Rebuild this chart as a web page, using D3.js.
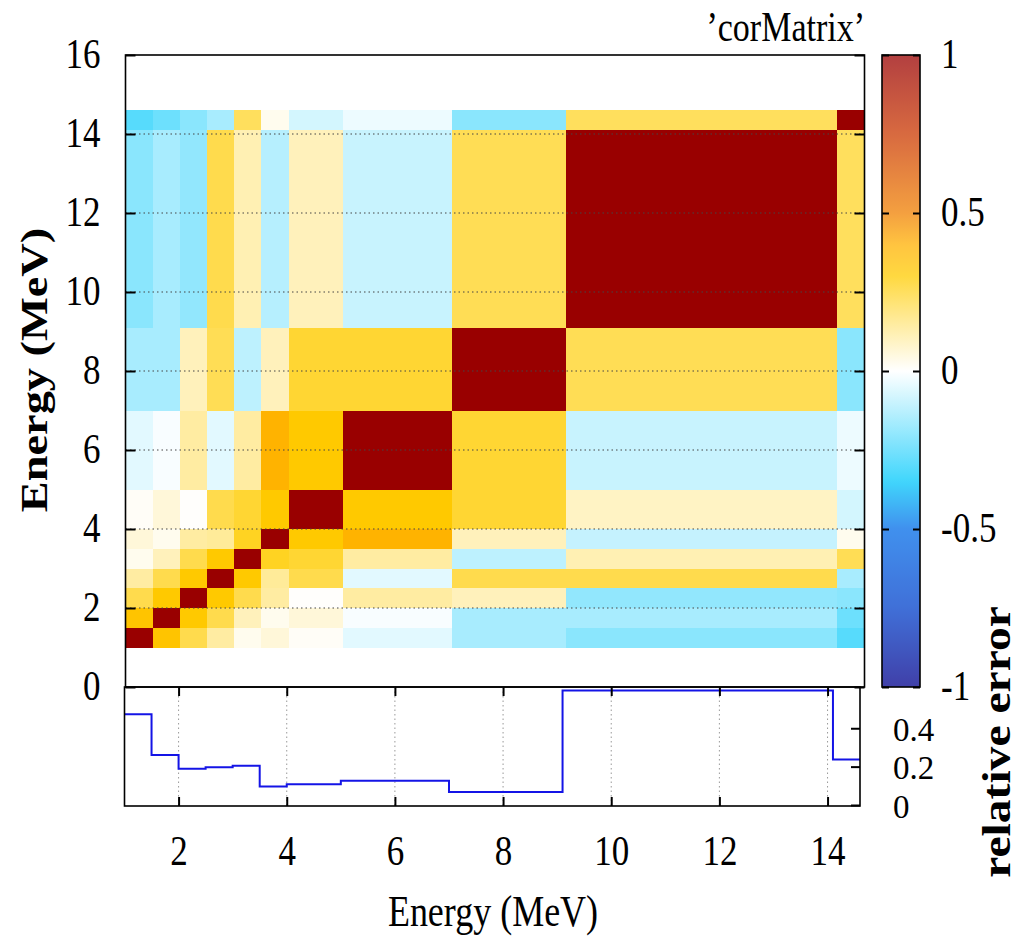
<!DOCTYPE html>
<html lang="en">
<head>
    <meta charset="UTF-8">
    <title>corMatrix</title>
    <script src="https://cdn.jsdelivr.net/npm/d3@7"></script>
    <style>
        body { margin: 0; background: #fff; }
        svg, svg text { font-family: "Liberation Serif", "DejaVu Serif", serif; }
        .frame { fill: none; stroke: #000; stroke-width: 1.6; }
        .grid { stroke: #444; stroke-width: 1; stroke-dasharray: 1.5,3; }
        .vgrid { stroke: #999; stroke-width: 1; stroke-dasharray: 1.5,3; }
        .tick line { stroke: #000; stroke-width: 2; }
    </style>
</head>
<body>
    <svg width="1017" height="945"></svg>

    <script>
        // bin edges (MeV), same for both axes
        const edges = [1, 1.5, 2, 2.5, 3, 3.5, 4, 5, 7, 9.1, 14.1, 14.6];

        // correlation matrix, row = y bin (bottom to top), col = x bin
        const corr = [
            [1, 0.33, 0.21, 0.11, 0.02, 0.045, 0.01, -0.04, -0.12, -0.16, -0.23],
            [0.33, 1, 0.31, 0.21, 0.08, 0.02, 0.045, -0.01, -0.12, -0.12, -0.2],
            [0.21, 0.31, 1, 0.31, 0.21, 0.11, 0.003, 0.11, 0.08, -0.15, -0.16],
            [0.11, 0.21, 0.31, 1, 0.31, 0.12, 0.21, -0.04, 0.21, 0.21, -0.12],
            [0.02, 0.08, 0.21, 0.31, 1, 0.26, 0.24, 0.11, -0.09, 0.09, 0.2],
            [0.045, 0.02, 0.11, 0.12, 0.26, 1, 0.31, 0.39, 0.08, -0.08, 0.02],
            [0.01, 0.045, 0.003, 0.21, 0.24, 0.31, 1, 0.31, 0.24, 0.07, -0.06],
            [-0.04, -0.01, 0.11, -0.04, 0.11, 0.39, 0.31, 1, 0.24, -0.075, -0.025],
            [-0.12, -0.12, 0.08, 0.2, -0.09, 0.08, 0.24, 0.24, 1, 0.2, -0.16],
            [-0.16, -0.12, -0.15, 0.21, 0.09, -0.1, 0.08, -0.075, 0.2, 1, 0.19],
            [-0.23, -0.2, -0.16, -0.12, 0.19, 0.02, -0.06, -0.025, -0.16, 0.19, 1]
        ];

        // relative error per bin
        const relErr = [0.473, 0.261, 0.189, 0.197, 0.204, 0.097, 0.108, 0.126, 0.068, 0.597, 0.237];

        const yTicks = [0, 2, 4, 6, 8, 10, 12, 14, 16];
        const xTicks = [2, 4, 6, 8, 10, 12, 14];
        const cbTicks = [1, 0.5, 0, -0.5, -1];
        const errTicks = [0, 0.2, 0.4];

        const palStops = [-1, -0.75, -0.5, -0.35, 0, 0.3, 0.4, 0.5, 0.75, 1];
        const palColors = ["#00008c", "#0040cb", "#006be8", "#00c8fb", "#ffffff",
                           "#ffcc00", "#ffb000", "#f08000", "#cb3800", "#990000"];

        const SY = 1.22;   // glyphs in the picture are tall and narrow
        const FONT = '"Liberation Serif", "DejaVu Serif", serif';

        const svg = d3.select("svg");
        const color = d3.scaleLinear().domain(palStops).range(palColors);

        const xMain = d3.scaleLinear().domain([1, 14.6]).range([125.5, 864.5]);
        const yMain = d3.scaleLinear().domain([0, 16]).range([687, 55]);
        const xErr = d3.scaleLinear().domain([1, 14.6]).range([124.5, 860]);
        const yErr = d3.scaleLinear().domain([0, 0.615]).range([805, 687]);
        const cbY = d3.scaleLinear().domain([-1, 1]).range([687, 55]);

        function txt(sel, x, y, s, anchor, size, weight, rot) {
            return sel.append("text")
                .attr("transform", `translate(${x},${y}) scale(1,${SY})` + (rot ? ` rotate(${rot})` : ""))
                .attr("text-anchor", anchor)
                .style("font-family", FONT)
                .style("font-size", size + "px")
                .style("font-weight", weight || "normal")
                .text(s);
        }

        // restyle axis labels: serif, stretched, placed by hand
        function tickText(ax, dx, dy, size, sy) {
            ax.attr("font-family", null).attr("font-size", null);
            ax.selectAll(".tick text")
                .attr("x", null).attr("y", null).attr("dy", null)
                .attr("fill", "#000")
                .attr("transform", `translate(${dx},${dy}) scale(1,${sy || SY})`)
                .style("font-family", FONT)
                .style("font-size", size + "px");
        }

        // ---- heat map ----
        const cells = [];
        corr.forEach((row, j) => row.forEach((v, i) => cells.push({ i, j, v })));

        svg.append("g").selectAll("rect")
            .data(cells)
            .join("rect")
            .attr("x", d => xMain(edges[d.i]))
            .attr("y", d => yMain(edges[d.j + 1]))
            .attr("width", d => xMain(edges[d.i + 1]) - xMain(edges[d.i]))
            .attr("height", d => yMain(edges[d.j]) - yMain(edges[d.j + 1]))
            .attr("fill", d => color(d.v))
            .attr("shape-rendering", "crispEdges");

        // horizontal grid
        svg.append("g").selectAll("line")
            .data(yTicks.slice(1, -1))
            .join("line")
            .attr("class", "grid")
            .attr("x1", xMain(1)).attr("x2", xMain(14.6))
            .attr("y1", d => yMain(d)).attr("y2", d => yMain(d));

        const yAx = svg.append("g")
            .attr("transform", `translate(${xMain(1)},0)`)
            .call(d3.axisLeft(yMain).tickValues(yTicks).tickSizeInner(-10).tickSizeOuter(0).tickFormat(d => String(d)));
        yAx.select(".domain").remove();
        tickText(yAx, -25, 12, 35);

        const yAxR = svg.append("g")
            .attr("transform", `translate(${xMain(14.6)},0)`)
            .call(d3.axisRight(yMain).tickValues(yTicks).tickSizeInner(-10).tickSizeOuter(0).tickFormat(""));
        yAxR.select(".domain").remove();

        svg.append("rect").attr("class", "frame")
            .attr("x", xMain(1)).attr("y", yMain(16))
            .attr("width", xMain(14.6) - xMain(1)).attr("height", yMain(0) - yMain(16));

        // ---- colour box ----
        const grad = svg.append("defs").append("linearGradient")
            .attr("id", "cb").attr("x1", 0).attr("x2", 0).attr("y1", 1).attr("y2", 0);
        grad.selectAll("stop")
            .data(d3.range(0, 101))
            .join("stop")
            .attr("offset", d => d + "%")
            .attr("stop-color", d => color(-1 + d / 50))
            .attr("stop-opacity", 0.75);

        svg.append("rect")
            .attr("x", 882).attr("y", cbY(1))
            .attr("width", 38).attr("height", cbY(-1) - cbY(1))
            .attr("fill", "url(#cb)")
            .attr("stroke", "#000").attr("stroke-width", 1.6);

        const cbAx = svg.append("g")
            .attr("transform", "translate(920,0)")
            .call(d3.axisRight(cbY).tickValues(cbTicks).tickSizeInner(-7).tickSizeOuter(0).tickFormat(d => String(d)));
        cbAx.select(".domain").remove();
        tickText(cbAx, 21, 12, 35);
        const cbAxL = svg.append("g")
            .attr("transform", "translate(882,0)")
            .call(d3.axisLeft(cbY).tickValues(cbTicks).tickSizeInner(-7).tickSizeOuter(0).tickFormat(""));
        cbAxL.select(".domain").remove();

        // ---- relative error panel ----
        svg.append("g").selectAll("line")
            .data(xTicks)
            .join("line")
            .attr("class", "vgrid")
            .attr("x1", d => xErr(d)).attr("x2", d => xErr(d))
            .attr("y1", yErr.range()[1]).attr("y2", yErr.range()[0] + 1);

        const pts = relErr.map((v, i) => [edges[i], v]);
        pts.push([edges[edges.length - 1], relErr[relErr.length - 1]]);

        svg.append("path")
            .datum(pts)
            .attr("fill", "none")
            .attr("stroke", "#1414e6")
            .attr("stroke-width", 2)
            .attr("d", d3.line().x(d => xErr(d[0])).y(d => yErr(d[1])).curve(d3.curveStepAfter));

        const xAx = svg.append("g")
            .attr("transform", "translate(0,806)")
            .call(d3.axisBottom(xErr).tickValues(xTicks).tickSizeInner(-9).tickSizeOuter(0).tickFormat(d => String(d)));
        xAx.select(".domain").remove();
        tickText(xAx, 0, 59, 35);

        const xAxT = svg.append("g")
            .attr("transform", "translate(0,687)")
            .call(d3.axisTop(xErr).tickValues(xTicks).tickSizeInner(-9).tickSizeOuter(0).tickFormat(""));
        xAxT.select(".domain").remove();

        const eAx = svg.append("g")
            .attr("transform", "translate(860,0)")
            .call(d3.axisRight(yErr).tickValues(errTicks).tickSizeInner(-9).tickSizeOuter(0).tickFormat(d => String(d)));
        eAx.select(".domain").remove();
        tickText(eAx, 33, 12, 33, 1.0);

        svg.append("rect").attr("class", "frame")
            .attr("x", xErr(1)).attr("y", 687)
            .attr("width", xErr(14.6) - xErr(1)).attr("height", 806 - 687);

        // ---- titles ----
        txt(svg, 865, 41, "\u2019corMatrix\u2019", "end", 34);
        txt(svg, 47, 370, "Energy (MeV)", "middle", 38, "bold", -90);
        txt(svg, 1010, 742, "relative error", "middle", 39, "bold", -90);
        txt(svg, 493, 926, "Energy (MeV)", "middle", 36);
    </script>
</body>
</html>
